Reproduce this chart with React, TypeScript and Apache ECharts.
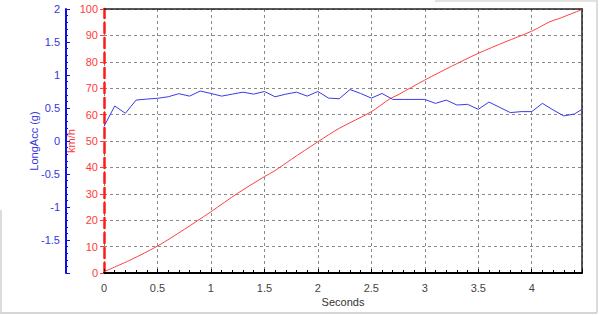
import React, { useEffect, useRef } from "react";
import * as echarts from "echarts";

const accTimes = [0, 0.1, 0.2, 0.3, 0.4, 0.5, 0.6, 0.7, 0.8, 0.9, 1.0, 1.1, 1.2, 1.3, 1.4, 1.5, 1.6, 1.7, 1.8, 1.9, 2.0, 2.1, 2.2, 2.3, 2.4, 2.5, 2.6, 2.7, 2.8, 2.9, 3.0, 3.1, 3.2, 3.3, 3.4, 3.5, 3.6, 3.7, 3.8, 3.9, 4.0, 4.1, 4.2, 4.3, 4.4, 4.47];
const longAcc = [0.22, 0.53, 0.42, 0.62, 0.635, 0.647, 0.67, 0.717, 0.68, 0.757, 0.72, 0.68, 0.71, 0.74, 0.71, 0.75, 0.67, 0.71, 0.74, 0.68, 0.75, 0.65, 0.64, 0.78, 0.72, 0.65, 0.72, 0.63, 0.63, 0.63, 0.63, 0.57, 0.62, 0.545, 0.555, 0.48, 0.59, 0.51, 0.43, 0.445, 0.445, 0.57, 0.47, 0.38, 0.41, 0.48];
const speedTimes = [0, 0.25, 0.5, 0.75, 1.0, 1.25, 1.5, 1.6, 1.75, 2.0, 2.2, 2.5, 2.67, 2.75, 3.0, 3.25, 3.5, 3.75, 4.0, 4.17, 4.25, 4.47];
const speedKmh = [0.5, 5.0, 10.2, 16.5, 23.2, 30.2, 36.5, 38.8, 43.0, 49.7, 54.8, 61.1, 65.9, 67.5, 73.1, 78.3, 83.2, 87.5, 91.6, 95.2, 96.3, 99.8];

const X_MAX = 4.47;
const FONT = "Liberation Sans, Arial, sans-serif";
const BLUE = "#3636e0";
const RED = "#ff3a3a";

export default function App() {
  const ref = useRef<HTMLDivElement>(null);
  useEffect(() => {
    if (!ref.current) return;
    const chart = echarts.init(ref.current, null, { renderer: "svg" });
    chart.setOption({
      animation: false,
      backgroundColor: "#ffffff",
      grid: { left: 104, right: 18, top: 9, bottom: 42 },
      graphic: [
        { type: "line", shape: { x1: 0, y1: 313, x2: 597, y2: 313 }, style: { stroke: "#c8c8c8", lineWidth: 1.5 } },
        { type: "line", shape: { x1: 597, y1: 0, x2: 597, y2: 313 }, style: { stroke: "#d0d0d0", lineWidth: 1.5 } },
        { type: "line", shape: { x1: 1, y1: 210, x2: 1, y2: 313 }, style: { stroke: "#d0d0d0", lineWidth: 1.5 } },
        { type: "line", shape: { x1: 435, y1: 1, x2: 597, y2: 1 }, style: { stroke: "#d8d8d8", lineWidth: 1.5 } },
      ],
      xAxis: [
        {
          type: "value",
          min: 0,
          max: X_MAX,
          interval: 0.5,
          name: "Seconds",
          nameLocation: "middle",
          nameGap: 23,
          nameMoveOverlap: false,
          nameTextStyle: { color: "#333", fontSize: 11, fontFamily: FONT },
          axisLine: { show: true, onZero: false, lineStyle: { color: "#000", width: 2 } },
          axisTick: { show: true, inside: true, length: 4, lineStyle: { color: "#000" } },
          minorTick: { show: true, splitNumber: 5, length: 3, lineStyle: { color: "#000" } },
          axisLabel: { color: "#444", fontSize: 11, fontFamily: FONT, margin: 9, showMaxLabel: false },
          splitLine: { show: true, lineStyle: { color: "#8a8a8a", type: [3, 3], width: 1 } },
        },
        {
          type: "value",
          position: "top",
          min: 0,
          max: X_MAX,
          axisLine: { show: true, onZero: false, lineStyle: { color: "#222", width: 1.5 } },
          axisTick: { show: false },
          axisLabel: { show: false },
          splitLine: { show: false },
        },
      ],
      yAxis: [
        {
          type: "value",
          min: 0,
          max: 100,
          interval: 10,
          position: "left",
          offset: 0,
          name: "km/h",
          nameLocation: "middle",
          nameGap: 28,
          nameMoveOverlap: false,
          nameTextStyle: { color: RED, fontSize: 11, fontFamily: FONT },
          axisLine: { show: true, onZero: false, lineStyle: { color: "#ff1a1a", width: 2.5, type: "dashed" } },
          axisTick: { show: true, length: 4, lineStyle: { color: RED } },
          axisLabel: { color: RED, fontSize: 11, fontFamily: FONT, margin: 6 },
          splitLine: { show: true, lineStyle: { color: "#8a8a8a", type: [3, 3], width: 1 } },
        },
        {
          type: "value",
          min: -2,
          max: 2,
          interval: 0.5,
          position: "left",
          offset: 38,
          name: "LongAcc (g)",
          nameLocation: "middle",
          nameGap: 27,
          nameMoveOverlap: false,
          nameTextStyle: { color: BLUE, fontSize: 11, fontFamily: FONT },
          axisLine: { show: true, onZero: false, lineStyle: { color: "#1010e0", width: 2 } },
          axisTick: { show: true, inside: true, length: 4, lineStyle: { color: "#1010e0" } },
          minorTick: { show: true, splitNumber: 5, length: 2, lineStyle: { color: "#1010e0" } },
          axisLabel: {
            color: BLUE,
            fontSize: 11,
            fontFamily: FONT,
            margin: 6,
            formatter: (v: number) => (v === -2 ? "" : String(v)),
          },
          splitLine: { show: false },
        },
        {
          type: "value",
          position: "right",
          min: 0,
          max: 100,
          axisLine: { show: true, onZero: false, lineStyle: { color: "#222", width: 1.5 } },
          axisTick: { show: false },
          axisLabel: { show: false },
          splitLine: { show: false },
        },
      ],
      series: [
        {
          type: "line",
          xAxisIndex: 0,
          yAxisIndex: 0,
          data: speedTimes.map((t, i) => [t, speedKmh[i]]),
          showSymbol: false,
          smooth: 0.3,
          lineStyle: { color: "#ff4040", width: 1 },
        },
        {
          type: "line",
          xAxisIndex: 0,
          yAxisIndex: 1,
          data: accTimes.map((t, i) => [t, longAcc[i]]),
          showSymbol: false,
          lineStyle: { color: "#3a3ae8", width: 1 },
        },
      ],
    });
    return () => chart.dispose();
  }, []);
  return <div ref={ref} style={{ width: 600, height: 315, position: "absolute", left: 0, top: 0 }} />;
}
